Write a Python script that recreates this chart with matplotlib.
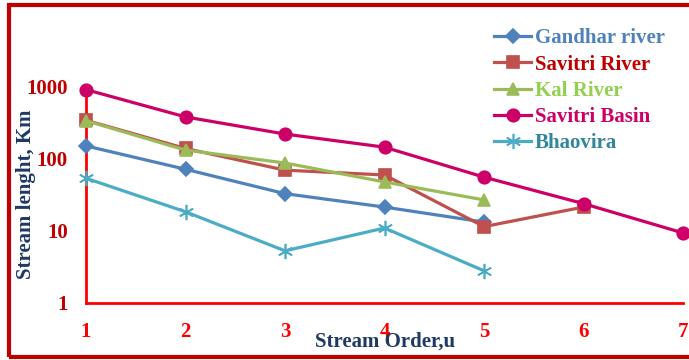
import matplotlib.pyplot as plt
import matplotlib.patches as patches

orders = [1, 2, 3, 4, 5, 6, 7]

gandhar = [152, 72, 33, 21.5, 13.3]
savitri_river = [345, 140, 70, 60, 11.5, 21.5]
kal_river = [340, 133, 88, 48, 27]
savitri_basin = [920, 384, 222, 146, 56, 24, 9.4]
bhaovira = [54, 18.5, 5.3, 11, 2.8]

y_ticks = [1, 10, 100, 1000]
y_ticklabels = ["1", "10", "100", "1000"]

series = [
    ("Gandhar river", gandhar, "#4F81BD", "D", 7, "#4F81BD"),
    ("Savitri River", savitri_river, "#C0504D", "s", 9, "#C00000"),
    ("Kal River", kal_river, "#9BBB59", "^", 9, "#92D050"),
    ("Savitri Basin", savitri_basin, "#CC0066", "o", 9, "#CC0066"),
    ("Bhaovira", bhaovira, "#4BACC6", (6, 2, 0), 11, "#31859C"),
]

font = "Liberation Serif"

fig = plt.figure(figsize=(6.89, 3.6), dpi=100)
ax = fig.add_axes([86 / 689, 57 / 360, 597 / 689, 216 / 360])

for name, vals, color, marker, ms, _ in series:
    ax.plot(orders[:len(vals)], vals, color=color, linewidth=2.3,
            marker=marker, markersize=ms, markeredgecolor=color,
            markeredgewidth=1.2, label=name, clip_on=False, zorder=3)

ax.set_yscale("log")
ax.set_xlim(1, 7)
ax.set_ylim(1, 1000)
ax.set_yticks(y_ticks)
ax.set_yticklabels(y_ticklabels)
ax.minorticks_off()
ax.set_xticks(orders)

for s in ["top", "right"]:
    ax.spines[s].set_visible(False)
for s in ["left", "bottom"]:
    ax.spines[s].set_color("#FF0000")
    ax.spines[s].set_linewidth(2)

ax.tick_params(axis="x", length=0, pad=14, colors="#FF0000", labelsize=15)
ax.tick_params(axis="y", length=0, pad=13, colors="#C00000", labelsize=15)
for lab in ax.get_xticklabels() + ax.get_yticklabels():
    lab.set_fontfamily(font)
    lab.set_fontweight("bold")

leg = ax.legend(loc="upper left", bbox_to_anchor=(486 / 689, 1 - 20 / 360),
                bbox_transform=fig.transFigure, frameon=False,
                prop={"family": font, "weight": "bold", "size": 15},
                handlelength=1.75, handletextpad=0.2, labelspacing=0.3,
                borderaxespad=0)
for text, (_, _, _, _, _, tc) in zip(leg.get_texts(), series):
    text.set_color(tc)

fig.text(385 / 689, 1 - 342 / 360, "Stream Order,u", ha="center", va="center",
         fontfamily=font, fontweight="bold", fontsize=15, color="#1F3864")
fig.text(26 / 689, 1 - 194 / 360, "Stream lenght, Km", ha="center", va="center",
         rotation=90, fontfamily=font, fontweight="bold", fontsize=15,
         color="#1F3864")

border = patches.Rectangle((9 / 689, 3 / 360), 1.0, 352 / 360,
                           transform=fig.transFigure, fill=False,
                           edgecolor="#C00000", linewidth=3)
fig.patches.append(border)

fig.savefig("out.png", dpi=100)
